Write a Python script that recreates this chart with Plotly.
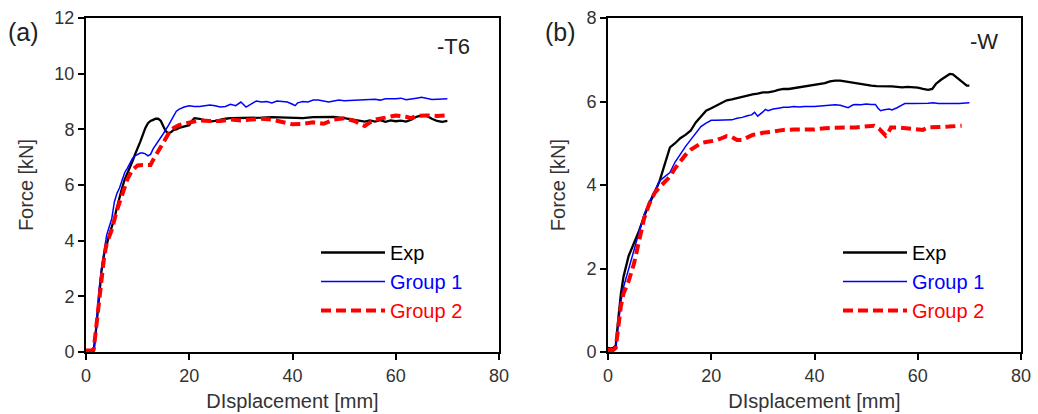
import plotly.graph_objects as go

# ---- (a) -T6 : force vs displacement ----
a_exp_x = [0, 0.5, 1.0, 1.5, 2.0, 2.5, 3.0, 3.5, 4.0, 4.5, 5.0, 5.5, 6.0, 6.5, 7.0, 7.5, 8.0, 8.5,
           9.0, 9.5, 10.0, 10.5, 11.0, 11.5, 12.0, 12.5, 13.0, 13.5, 14.0, 14.5, 15.0, 15.5, 16.0,
           16.5, 17.0, 17.5, 18.0, 19.0, 19.5, 20.0, 20.5, 21.0, 22, 23, 24, 25, 26, 27, 28, 30, 32,
           34, 36, 38, 40, 42, 44, 46, 48, 50, 52, 53, 54, 55, 56, 57, 58, 59, 60, 61, 62, 63, 64,
           65, 66, 67, 68, 69, 70]
a_exp_y = [0.0, 0.02, 0.0, 0.05, 0.9, 2.0, 2.9, 3.5, 3.9, 4.2, 4.5, 4.8, 5.2, 5.6, 5.9, 6.2, 6.4, 6.6,
           6.85, 7.1, 7.3, 7.55, 7.8, 8.05, 8.22, 8.3, 8.34, 8.38, 8.38, 8.3, 8.1, 7.92, 7.86,
           7.9, 7.98, 8.0, 8.05, 8.1, 8.1, 8.15, 8.3, 8.4, 8.38, 8.32, 8.28, 8.3, 8.35, 8.38, 8.4, 8.4, 8.42,
           8.42, 8.44, 8.42, 8.42, 8.4, 8.44, 8.44, 8.45, 8.4, 8.35, 8.3, 8.28, 8.32, 8.28, 8.33, 8.27, 8.32, 8.29,
           8.31, 8.28, 8.35, 8.45, 8.5, 8.48, 8.38, 8.3, 8.27, 8.3]

a_g1_x = [0, 1.5, 2.0, 2.5, 3.0, 3.5, 4.0, 4.5, 5.0, 5.5, 6.0, 6.5, 7.0, 7.5, 8.0, 8.5, 9.0, 9.5,
          10.0, 10.5, 11.0, 11.5, 12.0, 12.5, 13.0, 13.5, 14.0, 15.0, 16.0, 17.0, 17.5, 18.0, 19.0,
          20.0, 21, 22, 23, 24, 25, 26, 27, 28, 29, 30, 31, 32, 33, 34, 35, 36, 37, 38, 39, 40, 40.5,
          41, 42, 43, 44, 45, 46, 47, 48, 49, 50, 52, 54, 56, 57, 58, 60, 61, 62, 63, 64, 65, 66,
          67, 68, 69, 70]
a_g1_y = [0, 0, 1.0, 2.2, 3.0, 3.7, 4.2, 4.5, 4.8, 5.4, 5.7, 5.9, 6.2, 6.45, 6.6, 6.8, 6.95, 7.05,
          7.1, 7.15, 7.15, 7.12, 7.05, 7.1, 7.3, 7.45, 7.6, 7.85, 8.15, 8.5, 8.65, 8.72, 8.8,
          8.85, 8.82, 8.82, 8.85, 8.87, 8.85, 8.8, 8.82, 8.9, 8.85, 8.98, 8.8, 8.92, 9.02, 8.98, 9.0,
          8.95, 9.02, 9.0, 8.98, 8.9, 8.85, 8.95, 9.0, 8.98, 9.05, 9.05, 9.02, 8.98, 9.02, 9.05, 9.03,
          9.05, 9.08, 9.08, 9.05, 9.1, 9.1, 9.12, 9.06, 9.1, 9.12, 9.15, 9.1, 9.07, 9.08, 9.1, 9.1]

a_g2_x = [0, 1.0, 1.5, 2.0, 2.5, 3.0, 3.5, 4.0, 5.0, 6.0, 7.0, 8.0, 9.0, 10.0, 11.0, 12.0, 12.5,
          13.0, 14.0, 15.0, 16.0, 17.0, 18.0, 19.0, 20.0, 21, 22, 24, 26, 28, 30, 32, 34, 36, 38,
          40, 42, 44, 46, 48, 50, 52, 53, 54, 55, 56, 58, 60, 62, 63, 64, 66, 68, 70]
a_g2_y = [0.05, 0.05, 0.1, 0.9, 1.9, 2.8, 3.4, 3.9, 4.4, 5.1, 5.7, 6.2, 6.55, 6.7, 6.72, 6.7, 6.72,
          6.9, 7.2, 7.55, 7.85, 8.05, 8.15, 8.2, 8.25, 8.3, 8.32, 8.3, 8.3, 8.35, 8.32, 8.35, 8.38, 8.35, 8.25,
          8.18, 8.2, 8.25, 8.2, 8.35, 8.4, 8.3, 8.2, 8.12, 8.25, 8.35, 8.42, 8.5, 8.45, 8.4, 8.48, 8.5, 8.48, 8.5]

# ---- (b) -W : force vs displacement ----
b_exp_x = [0, 0.5, 1.0, 1.5, 2.0, 2.5, 3.0, 4.0, 5.0, 6.0, 7.0, 8.0, 9.0, 10.0, 11.0, 12.0, 13.0,
           14.0, 15.0, 16.0, 17.0, 18.0, 19.0, 20.0, 21, 22, 23, 24, 25, 26, 27, 28, 29, 30, 31, 32,
           33, 34, 35, 36, 37, 38, 39, 40, 41, 42, 43, 44, 45, 46, 47, 48, 49, 50, 51, 52, 53, 54,
           55, 56, 57, 58, 59, 60, 61, 62, 62.8, 63.5, 64.5, 65.5, 66.2, 66.8, 67.5, 68.2, 69, 69.5, 70]
b_exp_y = [0.1, 0.08, 0.1, 0.15, 0.8, 1.4, 1.8, 2.3, 2.6, 2.9, 3.25, 3.55, 3.8, 4.1, 4.5, 4.9, 5.0,
           5.12, 5.2, 5.3, 5.5, 5.65, 5.78, 5.84, 5.9, 5.97, 6.03, 6.05, 6.08, 6.12, 6.15, 6.17, 6.19, 6.22, 6.22, 6.24,
           6.28, 6.3, 6.3, 6.32, 6.35, 6.37, 6.38, 6.4, 6.42, 6.44, 6.48, 6.5, 6.5, 6.48, 6.46, 6.43, 6.41, 6.4, 6.38, 6.37, 6.37, 6.36,
           6.36, 6.35, 6.34, 6.35, 6.34, 6.33, 6.3, 6.28, 6.3, 6.42, 6.52, 6.6, 6.66, 6.65, 6.58, 6.5, 6.42, 6.38, 6.38]

b_g1_x = [0, 1.0, 1.5, 2.0, 2.5, 3.0, 4.0, 5.0, 6.0, 7.0, 8.0, 9.0, 10.0, 11.0, 12.0, 13.0, 14.0,
          15.0, 16.0, 17.0, 18.0, 19.0, 20.0, 21, 22, 23, 24, 25, 26, 27, 27.8, 28.4, 29, 30, 30.5, 31,
          32, 33, 34, 35, 36, 37, 38, 40, 42, 44, 45, 46, 46.5, 47.5, 48, 49, 50, 51, 51.8, 52.3,
          52.8, 53.5, 54.5, 55, 56, 57, 57.5, 59, 60, 62, 63, 64, 66, 68, 70]
b_g1_y = [0.05, 0.05, 0.1, 0.7, 1.2, 1.55, 2.0, 2.4, 2.9, 3.3, 3.6, 3.85, 4.1, 4.2, 4.3, 4.55, 4.75,
          4.92, 5.08, 5.25, 5.4, 5.48, 5.55, 5.55, 5.55, 5.55, 5.56, 5.6, 5.62, 5.66, 5.68, 5.74, 5.65, 5.75, 5.81, 5.78,
          5.82, 5.84, 5.86, 5.86, 5.88, 5.87, 5.88, 5.88, 5.9, 5.92, 5.91, 5.87, 5.85, 5.92, 5.93, 5.92, 5.94, 5.93, 5.93, 5.84,
          5.78, 5.8, 5.82, 5.8, 5.85, 5.92, 5.95, 5.95, 5.95, 5.96, 5.97, 5.95, 5.95, 5.95, 5.97]

b_g2_x = [0, 1.0, 1.5, 2.0, 2.5, 3.0, 4.0, 5.0, 6.0, 7.0, 8.0, 9.0, 10.0, 11.0, 12.0, 13.0, 14.0,
          15.0, 16.0, 17.0, 18.0, 19.0, 20.0, 21, 22, 23, 24, 25, 26, 27, 28, 29, 30, 32, 34, 36, 38,
          40, 42, 44, 46, 48, 50, 51.5, 52.5, 53.2, 53.8, 54.3, 54.8, 56, 58, 60, 61, 62, 64, 66, 68.5]
b_g2_y = [0.05, 0.05, 0.1, 0.6, 1.1, 1.4, 1.7, 2.1, 2.7, 3.2, 3.55, 3.8, 3.95, 4.08, 4.2, 4.4, 4.58,
          4.72, 4.84, 4.93, 5.0, 5.03, 5.05, 5.07, 5.12, 5.17, 5.15, 5.08, 5.08, 5.14, 5.2, 5.22, 5.25, 5.28, 5.32, 5.33, 5.32,
          5.33, 5.36, 5.38, 5.38, 5.38, 5.4, 5.42, 5.35, 5.25, 5.18, 5.25, 5.38, 5.38, 5.36, 5.34, 5.32, 5.38, 5.4, 5.4, 5.42]

series_names = ["Exp", "Group 1", "Group 2"]
series_colors = ["#000000", "#0000ff", "#ff0000"]
y_ticks_a = [0, 2, 4, 6, 8, 10, 12]
y_ticks_b = [0, 2, 4, 6, 8]
x_ticks = [0, 20, 40, 60, 80]

FONT = "Liberation Sans, Arial, sans-serif"
TXT = "#333333"

fig = go.Figure()

panels = [
    ("x", "y", "legend", [(a_exp_x, a_exp_y), (a_g1_x, a_g1_y), (a_g2_x, a_g2_y)]),
    ("x2", "y2", "legend2", [(b_exp_x, b_exp_y), (b_g1_x, b_g1_y), (b_g2_x, b_g2_y)]),
]
line_styles = [dict(width=2.3), dict(width=1.5), dict(width=4, dash="10px,5px")]

for xa, ya, leg, data in panels:
    for (xs, ys), name, color, style in zip(data, series_names, series_colors, line_styles):
        fig.add_trace(go.Scatter(
            x=xs, y=ys, mode="lines", xaxis=xa, yaxis=ya, legend=leg,
            name=f"<span style='color:{color}'>{name}</span>",
            line=dict(color=color, **style),
        ))

axis_common = dict(
    showline=True, linecolor="black", linewidth=2, mirror=True,
    ticks="outside", ticklen=6, tickwidth=2, tickcolor="black",
    showgrid=False, zeroline=False,
    tickfont=dict(family=FONT, size=18, color=TXT),
    title_font=dict(family=FONT, size=20, color=TXT),
    automargin=False,
)

legend_common = dict(
    yanchor="top", xanchor="left", bgcolor="rgba(0,0,0,0)",
    font=dict(family=FONT, size=20), itemwidth=64, tracegroupgap=0,
)

fig.update_layout(
    width=1038, height=414,
    margin=dict(l=0, r=0, t=0, b=0),
    paper_bgcolor="white", plot_bgcolor="white",
    font=dict(family=FONT, color=TXT),
    xaxis=dict(axis_common, domain=[86 / 1038, 499 / 1038], range=[0, 80], tickvals=x_ticks,
               anchor="y", title=dict(text="DIsplacement [mm]", standoff=9)),
    yaxis=dict(axis_common, domain=[1 - 352 / 414, 1 - 18 / 414], range=[0, 12], tickvals=y_ticks_a,
               anchor="x", title=dict(text="Force [kN]", standoff=15)),
    xaxis2=dict(axis_common, domain=[608 / 1038, 1021 / 1038], range=[0, 80], tickvals=x_ticks,
                anchor="y2", title=dict(text="DIsplacement [mm]", standoff=9)),
    yaxis2=dict(axis_common, domain=[1 - 352 / 414, 1 - 18 / 414], range=[0, 8], tickvals=y_ticks_b,
                anchor="x2", title=dict(text="Force [kN]", standoff=15)),
    legend=dict(legend_common, x=316 / 1038, y=1 - 233 / 414),
    legend2=dict(legend_common, x=838 / 1038, y=1 - 233 / 414),
    showlegend=True,
)

for text, px in [("(a)", 6), ("(b)", 543)]:
    fig.add_annotation(text=text, xref="paper", yref="paper",
                       x=px / 1038, y=1 - 32 / 414, xanchor="left", yanchor="middle",
                       showarrow=False, font=dict(family=FONT, size=25, color="#222222"))

fig.add_annotation(text="-T6", xref="x domain", yref="y domain", x=0.889, y=0.916,
                   xanchor="center", yanchor="middle", showarrow=False,
                   font=dict(family=FONT, size=22, color="#222222"))
fig.add_annotation(text="-W", xref="x2 domain", yref="y2 domain", x=0.91, y=0.931,
                   xanchor="center", yanchor="middle", showarrow=False,
                   font=dict(family=FONT, size=22, color="#222222"))

fig.write_html("out.html")
